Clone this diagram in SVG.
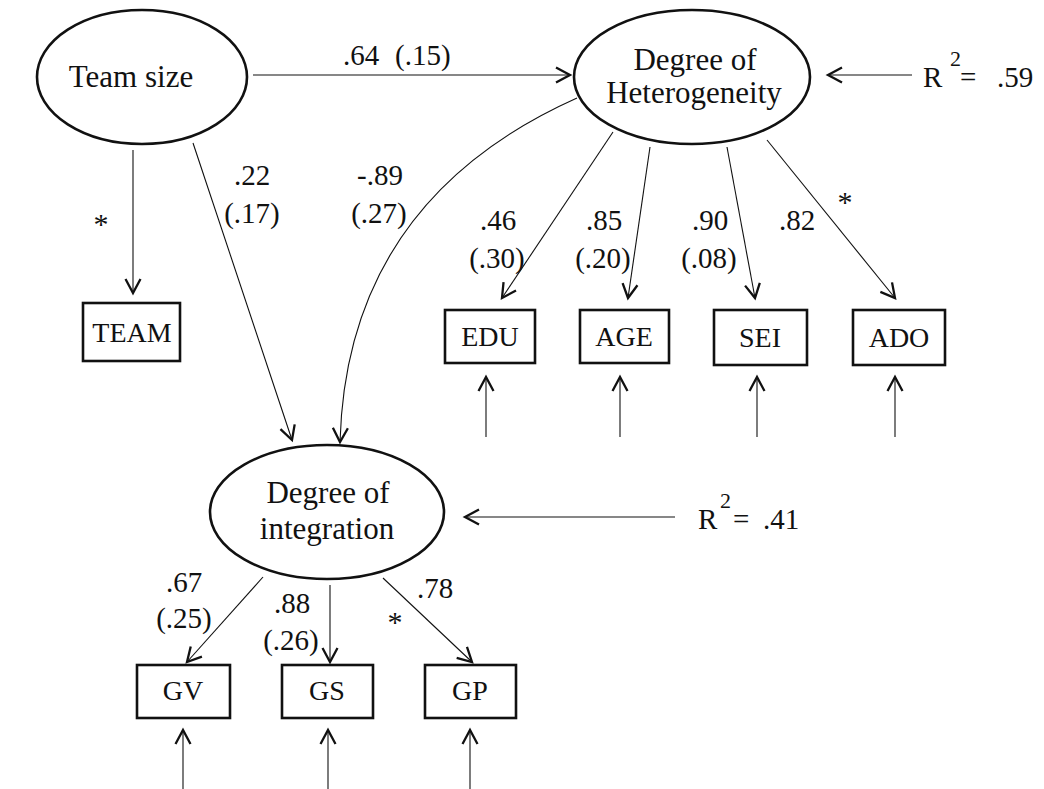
<svg xmlns="http://www.w3.org/2000/svg" width="1044" height="789" viewBox="0 0 1044 789">
<style>
text{font-family:"Liberation Serif","Times New Roman",serif;fill:#111;}
.n{font-size:31px;text-anchor:middle;}
.b{font-size:28px;text-anchor:middle;}
.l{font-size:29px;text-anchor:middle;}
.s{font-size:30px;text-anchor:middle;}
.r{font-size:29px;}
ellipse{fill:#fff;stroke:#111;stroke-width:2.6;}
rect{fill:#fff;stroke:#111;stroke-width:2.6;}
.c path{fill:none;stroke:#111;stroke-width:1.1;marker-end:url(#ah);}
</style>
<defs>
<marker id="ah" markerUnits="userSpaceOnUse" markerWidth="20" markerHeight="20" refX="15" refY="8" orient="auto" overflow="visible">
<path d="M1,0.5 L15,8 L1,15.5" fill="none" stroke="#111" stroke-width="2.3" stroke-linejoin="miter"/>
</marker>
</defs>
<rect x="0" y="0" width="1044" height="789" style="fill:#fff;stroke:none"/>
<g class="c" id="connectors">
<path d="M253,75 L570,75"/>
<path d="M912,75 L828,75"/>
<path d="M133,150 L133,293"/>
<path d="M193,143 L292,440"/>
<path d="M577,98 C445,157 345,260 340,442"/>
<path d="M613,132 L502,298"/>
<path d="M650,147 L628,298"/>
<path d="M727,147 L755,298"/>
<path d="M767,140 L895,298"/>
<path d="M486,437 L486,377"/>
<path d="M620,437 L620,377"/>
<path d="M757,437 L757,377"/>
<path d="M895,437 L895,377"/>
<path d="M675,517 L465,517"/>
<path d="M263,577 L187,662"/>
<path d="M330,585 L330,662"/>
<path d="M383,578 L472,662"/>
<path d="M183,789 L183,730"/>
<path d="M328,789 L328,730"/>
<path d="M470,789 L470,730"/>
</g>
<g id="teamsize">
<ellipse cx="142" cy="77" rx="105" ry="67"/>
<text class="n" x="131" y="87">Team size</text>
</g>
<g id="heterogeneity">
<ellipse cx="692" cy="77" rx="118" ry="67"/>
<text class="n" x="695" y="70">Degree of</text>
<text class="n" x="694" y="103">Heterogeneity</text>
</g>
<g id="integration">
<ellipse cx="327" cy="512" rx="117" ry="67"/>
<text class="n" x="328" y="503">Degree of</text>
<text class="n" x="327" y="539">integration</text>
</g>
<g id="team"><rect x="83" y="303" width="97" height="58"/><text class="b" x="132" y="342">TEAM</text></g>
<g id="edu"><rect x="445" y="310" width="90" height="53"/><text class="b" x="490" y="346">EDU</text></g>
<g id="age"><rect x="580" y="310" width="89" height="53"/><text class="b" x="624" y="346">AGE</text></g>
<g id="sei"><rect x="714" y="310" width="93" height="55"/><text class="b" x="760" y="347">SEI</text></g>
<g id="ado"><rect x="853" y="310" width="92" height="55"/><text class="b" x="899" y="347">ADO</text></g>
<g id="gv"><rect x="137" y="665" width="93" height="53"/><text class="b" x="183" y="700">GV</text></g>
<g id="gs"><rect x="282" y="665" width="91" height="53"/><text class="b" x="327" y="700">GS</text></g>
<g id="gp"><rect x="425" y="665" width="91" height="53"/><text class="b" x="470" y="700">GP</text></g>
<g id="labels">
<text class="r" y="65"><tspan x="343">.64</tspan><tspan x="395">(.15)</tspan></text>
<text class="r" y="87"><tspan x="923">R</tspan><tspan x="950" y="66" font-size="22">2</tspan><tspan x="960" y="87">=</tspan><tspan x="997">.59</tspan></text>
<text class="r" y="529"><tspan x="698">R</tspan><tspan x="720" y="508" font-size="22">2</tspan><tspan x="733" y="529">=</tspan><tspan x="763">.41</tspan></text>
<text class="s" x="101" y="234">*</text>
<text class="l" x="252" y="185">.22</text>
<text class="l" x="252" y="223">(.17)</text>
<text class="l" x="380" y="185">-.89</text>
<text class="l" x="379" y="223">(.27)</text>
<text class="l" x="498" y="230">.46</text>
<text class="l" x="497" y="268">(.30)</text>
<text class="l" x="604" y="230">.85</text>
<text class="l" x="603" y="268">(.20)</text>
<text class="l" x="710" y="230">.90</text>
<text class="l" x="709" y="268">(.08)</text>
<text class="l" x="797" y="230">.82</text>
<text class="s" x="845" y="212">*</text>
<text class="l" x="184" y="592">.67</text>
<text class="l" x="184" y="628">(.25)</text>
<text class="l" x="292" y="613">.88</text>
<text class="l" x="291" y="650">(.26)</text>
<text class="l" x="435" y="598">.78</text>
<text class="s" x="395" y="632">*</text>
</g>
</svg>
